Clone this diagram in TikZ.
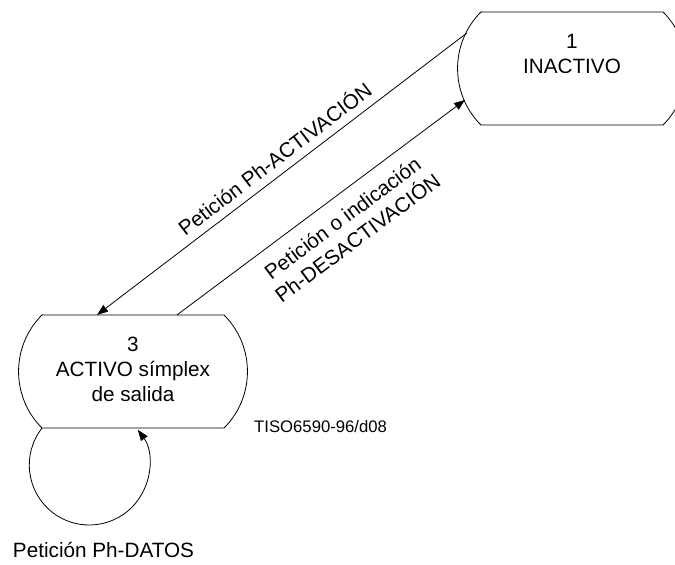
\documentclass[tikz,border=0pt]{standalone}
\usepackage{fontspec}
\setmainfont{Liberation Sans}
\usetikzlibrary{arrows.meta}
\begin{document}
\begin{tikzpicture}[x=1pt,y=1pt,
  state/.style={minimum width=182pt, minimum height=113.137pt, inner sep=0pt,
    outer sep=0pt, align=center, font=\fontsize{20.7}{25}\selectfont},
  outline/.style={line width=0.8pt},
  trans/.style={line width=0.8pt, -{Triangle[length=11pt,width=8pt]}},
  lbl/.style={font=\fontsize{20.7}{25}\selectfont, align=center, inner sep=0pt}]
\useasboundingbox (0,0) rectangle (675,565);

% states
\node[state] (inactivo) at (572,496.5) {\strut 1\\\strut INACTIVO\\\strut};
\node[state] (activo) at (133,193.5) {\strut 3\\\strut ACTIVO símplex\\\strut de salida};

% state outline: straight top and bottom, bulging arcs at the sides
\foreach \s in {inactivo,activo}
  \draw[outline] (\s.north west) -- (\s.north east)
    arc[start angle=45, end angle=-45, radius=80]
    -- (\s.south west)
    arc[start angle=225, end angle=135, radius=80] -- cycle;

% transitions
\draw[trans] ([shift={(-14,-21)}]inactivo.north west) -- ([shift={(-36,0)}]activo.north);
\draw[trans] ([shift={(44,0)}]activo.north) -- ([shift={(-16,-88)}]inactivo.north west);
\draw[trans] (activo.south west) arc[start angle=142, end angle=396, radius=60];

% transition labels
\node[lbl, rotate=37.3] (lblact) at (274,407) {Petición Ph-ACTIVACIÓN};
\node[lbl, rotate=36.7] (lbldes) at (350,337) {Petición o indicación\\Ph-DESACTIVACIÓN};
\node[lbl, anchor=base] (lbldatos) at (103.5,7) {Petición Ph-DATOS};
\node[font=\fontsize{16.7}{20}\selectfont, anchor=base west, inner sep=0pt] (ref) at (254,132) {TISO6590-96/d08};
\end{tikzpicture}
\end{document}
